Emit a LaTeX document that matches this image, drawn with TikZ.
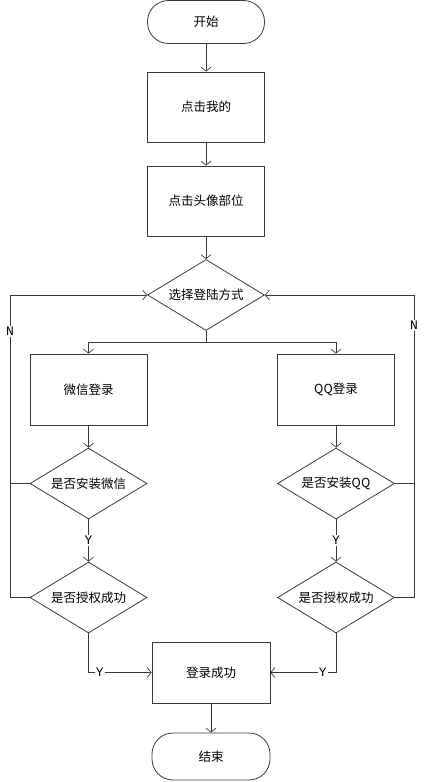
\documentclass[tikz,border=0pt]{standalone}
\usepackage{fontspec}
\newfontfamily\cjk{Noto Sans CJK SC}
\newfontfamily\lbl{Liberation Mono}
\usetikzlibrary{shapes.geometric,arrows.meta}
\definecolor{ln}{HTML}{3A3A3A}
\begin{document}
\begin{tikzpicture}[x=1pt,y=-1pt,
  every node/.style={font=\cjk\fontsize{12.5}{14}\selectfont},
  base/.style={draw=ln,line width=0.8pt,inner sep=0pt},
  term/.style={base,rectangle,rounded corners=21pt,minimum width=117pt,minimum height=43pt},
  proc/.style={base,rectangle,minimum width=117pt,minimum height=70pt},
  dec/.style={base,diamond,aspect=1.66,minimum width=117pt,minimum height=71pt},
  conn/.style={draw=ln,line width=0.8pt},
  arr/.style={conn,-{Straight Barb[length=4pt,width=10pt,line width=0.7pt]}},
  yn/.style={font=\lbl\fontsize{13}{13}\selectfont,fill=white,inner sep=1pt}
]
\useasboundingbox (0,0) rectangle (425,782);
\node[term] (start) at (206,22) {开始};
\node[proc] (b1) at (206,107) {点击我的};
\node[proc] (b2) at (206,201) {点击头像部位};
\node[dec] (d0) at (206,295) {选择登陆方式};
\coordinate (j) at (206,342);
\node[proc,minimum height=71pt] (w) at (88.5,389.5) {微信登录};
\node[proc,minimum height=71pt] (q) at (336,389.5) {QQ登录};
\node[dec] (dw1) at (88.5,483.5) {是否安装微信};
\node[dec] (dw2) at (88.5,597.5) {是否授权成功};
\node[dec] (dq1) at (336,483.5) {是否安装QQ};
\node[dec] (dq2) at (336,597.5) {是否授权成功};
\node[proc,minimum width=118pt,minimum height=61pt] (ok) at (211,672.5) {登录成功};
\node[term,minimum width=118pt,minimum height=47pt] (end) at (211,756.5) {结束};
\coordinate (lt) at (10,597.5);
\coordinate (rt) at (414,597.5);

\draw[arr] (start) -- (b1);
\draw[arr] (b1) -- (b2);
\draw[arr] (b2) -- (d0);
\draw[conn] (d0.south) -- (j);
\draw[arr] (j) -| (w.north);
\draw[arr] (j) -| (q.north);
\draw[arr] (w) -- (dw1);
\draw[arr] (q) -- (dq1);
\draw[arr] (dw1) -- node[yn] {Y} (dw2);
\draw[arr] (dq1) -- node[yn] {Y} (dq2);
\draw[arr] (dw2.west) -- (lt) |- node[yn,pos=0.44] {N} (d0.west);
\draw[conn] (dw1.west) -- (dw1.west -| lt);
\draw[arr] (dq2.east) -- (rt) |- node[yn,pos=0.45] {N} (d0.east);
\draw[conn] (dq1.east) -- (dq1.east -| rt);
\draw[arr] (dw2.south) |- node[yn,pos=0.59] {Y} (ok.west);
\draw[arr] (dq2.south) |- node[yn,pos=0.6] {Y} (ok.east);
\draw[arr] (ok) -- (end);
\end{tikzpicture}
\end{document}
